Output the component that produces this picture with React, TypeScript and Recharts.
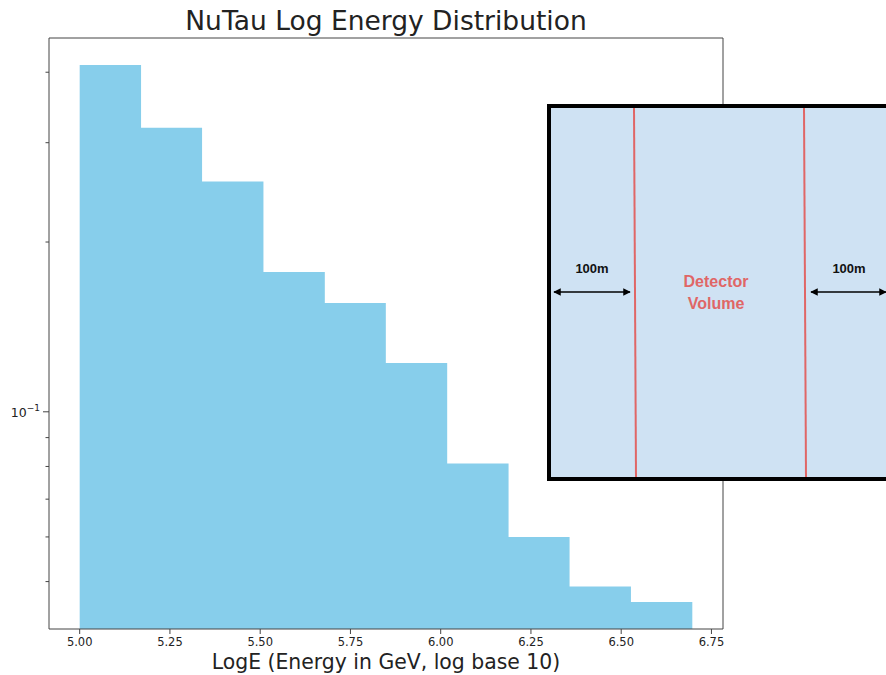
import { ComposedChart, Area, XAxis, YAxis } from "recharts";

// histogram of log10(E / GeV), density on a log scale
const binEdges = [5.0, 5.17, 5.339, 5.509, 5.679, 5.848, 6.018, 6.188, 6.357, 6.527, 6.697];
const density = [0.412, 0.319, 0.256, 0.177, 0.156, 0.122, 0.081, 0.06, 0.049, 0.046];
const xTicks = [5.0, 5.25, 5.5, 5.75, 6.0, 6.25, 6.5, 6.75];
const yTicks = [0.05, 0.06, 0.07, 0.08, 0.09, 0.1, 0.2, 0.3, 0.4];
const yMajor = [0.1];

const X_DOMAIN = [4.915, 6.782];
const Y_DOMAIN = [0.0412, 0.46];
const FONT = "'DejaVu Sans', sans-serif";
const FRAME = "#444";

const data = binEdges.map((e, i) => ({ x: e, y: density[Math.min(i, density.length - 1)] }));

function YTick({ x, y, payload }: any) {
  const major = yMajor.includes(payload.value);
  const len = major ? 6 : 3.5;
  return (
    <g>
      <line x1={x} x2={x - len} y1={y} y2={y} stroke={FRAME} strokeWidth={1} />
      {major && (
        <text x={x - len - 3} y={y + 5} textAnchor="end" fontFamily={FONT} fontSize={12.5} fill="#222">
          10<tspan dy={-6} fontSize={9}>−1</tspan>
        </text>
      )}
    </g>
  );
}

function XTick({ x, y, payload }: any) {
  return (
    <g>
      <line x1={x} x2={x} y1={y} y2={y + 5} stroke={FRAME} strokeWidth={1} />
      <text x={x} y={y + 17} textAnchor="middle" fontFamily={FONT} fontSize={11.5} fill="#222">
        {payload.value.toFixed(2)}
      </text>
    </g>
  );
}

function Detector() {
  const black = "#000";
  const red = "#e06666";
  const arial = "'Liberation Sans', Arial, sans-serif";
  return (
    <svg width={339} height={378} style={{ position: "absolute", left: 547, top: 104 }}>
      <defs>
        <marker id="ah" viewBox="0 0 10 10" refX="9" refY="5" markerWidth="5" markerHeight="5" orient="auto-start-reverse">
          <path d="M0,0 L10,5 L0,10 z" fill={black} />
        </marker>
      </defs>
      <rect x={0} y={0} width={345} height={377} fill="#cfe2f3" />
      <line x1={0} x2={345} y1={2} y2={2} stroke={black} strokeWidth={4} />
      <line x1={0} x2={345} y1={375} y2={375} stroke={black} strokeWidth={4} />
      <line x1={2} x2={2} y1={0} y2={377} stroke={black} strokeWidth={4} />
      <line x1={87} x2={89} y1={4} y2={373} stroke={red} strokeWidth={2} />
      <line x1={257} x2={259} y1={4} y2={373} stroke={red} strokeWidth={2} />
      <line x1={7} x2={83} y1={188} y2={188} stroke={black} strokeWidth={1.5} markerStart="url(#ah)" markerEnd="url(#ah)" />
      <line x1={264} x2={339} y1={188} y2={188} stroke={black} strokeWidth={1.5} markerStart="url(#ah)" markerEnd="url(#ah)" />
      <text x={45} y={169} textAnchor="middle" fontFamily={arial} fontWeight="bold" fontSize={13} fill="#111">100m</text>
      <text x={302} y={169} textAnchor="middle" fontFamily={arial} fontWeight="bold" fontSize={13} fill="#111">100m</text>
      <text x={169} y={183} textAnchor="middle" fontFamily={arial} fontWeight="bold" fontSize={16} fill={red}>Detector</text>
      <text x={169} y={205} textAnchor="middle" fontFamily={arial} fontWeight="bold" fontSize={16} fill={red}>Volume</text>
    </svg>
  );
}

export default function App() {
  return (
    <div style={{ position: "absolute", left: 0, top: 0, width: 886, height: 675, background: "#fff", overflow: "hidden" }}>
      <div
        style={{
          position: "absolute", left: 49, width: 674, top: 6, textAlign: "center",
          fontFamily: FONT, fontSize: 26.5, color: "#222", lineHeight: "30px",
        }}
      >
        NuTau Log Energy Distribution
      </div>
      <ComposedChart width={886} height={675} data={data} margin={{ top: 37, right: 162, bottom: 45, left: 48 }}>
        <XAxis
          dataKey="x" type="number" domain={X_DOMAIN} allowDataOverflow ticks={xTicks}
          height={1} tickSize={0} tickMargin={0} tickLine={false} stroke={FRAME} tick={<XTick />}
        />
        <XAxis xAxisId="top" orientation="top" type="number" domain={X_DOMAIN} height={1} tick={false} tickLine={false} stroke={FRAME} />
        <YAxis
          dataKey="y" scale="log" type="number" domain={Y_DOMAIN} allowDataOverflow ticks={yTicks}
          width={1} tickSize={0} tickMargin={0} tickLine={false} stroke={FRAME} tick={<YTick />} interval={0}
        />
        <YAxis yAxisId="right" orientation="right" scale="log" type="number" domain={Y_DOMAIN} width={1} tick={false} tickLine={false} stroke={FRAME} />
        <Area
          dataKey="y" type="stepAfter" baseValue={Y_DOMAIN[0]} fill="#87ceeb" fillOpacity={1}
          stroke="none" isAnimationActive={false} dot={false} activeDot={false}
        />
      </ComposedChart>
      <div
        style={{
          position: "absolute", left: 49, width: 674, top: 649, textAlign: "center",
          fontFamily: FONT, fontSize: 20.4, color: "#222", lineHeight: "26px",
        }}
      >
        LogE (Energy in GeV, log base 10)
      </div>
      <Detector />
    </div>
  );
}
